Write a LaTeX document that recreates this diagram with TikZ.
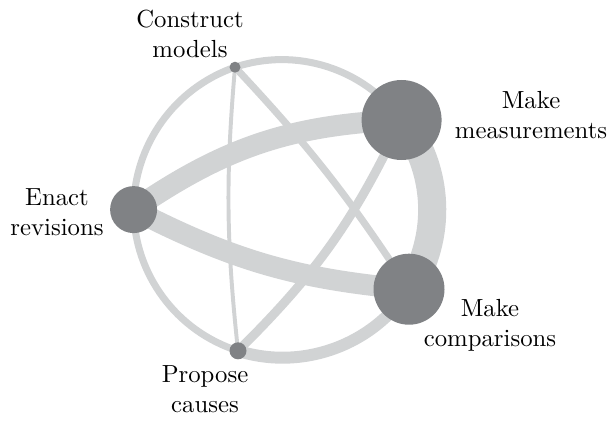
\documentclass[tikz,border=0pt]{standalone}
\usepackage{fontspec}
\setmainfont{lmroman10-regular.otf}
\usetikzlibrary{backgrounds}
\definecolor{dotgray}{RGB}{128,130,133}
\definecolor{linkgray}{RGB}{209,211,212}
\begin{document}
\begin{tikzpicture}
\tikzset{enclosed/.style={circle, inner sep=0pt, fill=dotgray},
  link/.style={draw=linkgray},
  caption/.style={align=center, font=\fontsize{17.6}{21.3}\selectfont}}
    \useasboundingbox (0,0) rectangle (15.25,10.5);
    \node[enclosed, minimum size=1.175cm] at (3.34,5.26) (enact) {};
    \node[enclosed, minimum size=.275cm] at (5.875,8.82) (construct) {};
    \node[enclosed, minimum size=2cm] at (10.04,7.5) (measure) {};
    \node[enclosed, minimum size=1.775cm] at (10.225,3.27) (compare) {};
    \node[enclosed, minimum size=.425cm] at (5.95,1.73) (propose) {};

    \node[caption] at (4.75,9.66) (construct_text) {Construct\\models};
    \node[caption] at (13.275,7.625) (measure_text) {Make\\measurements};
    \node[caption] at (1.425,5.19) (enact_text) {Enact\\revisions};
    \node[caption] at (12.25,2.375) (compare_text) {Make\\comparisons};
    \node[caption] at (5.125,.775) (propose_text) {Propose\\causes};

    \begin{scope}[on background layer]
    % outer ring
    \draw[link, line width=5pt] (enact.center) to [bend left=35.5, looseness=.94] (construct.center);
    \draw[link, line width=5pt] (construct.center) to [bend left=36, looseness=.94] (measure.center);
    \draw[link, line width=20pt] (measure.center) to [bend left=35, looseness=.94] (compare.center);
    \draw[link, line width=8.5pt] (compare.center) to [bend left=37.5, looseness=.94] (propose.center);
    \draw[link, line width=5pt] (propose.center) to [bend left=36, looseness=.94] (enact.center);
    % chords
    \draw[link, line width=15pt] (enact.center) to [bend left=16] (measure.center);
    \draw[link, line width=15pt] (enact.center) to [bend right=11] (compare.center);
    \draw[link, line width=2.8pt] (construct.center) to [bend right=5.5] (propose.center);
    \draw[link, line width=5pt] (construct.center) to [bend left=5] (compare.center);
    \draw[link, line width=6.4pt] (measure.center) to [bend left=10] (propose.center);
    \end{scope}
\end{tikzpicture}
\end{document}
